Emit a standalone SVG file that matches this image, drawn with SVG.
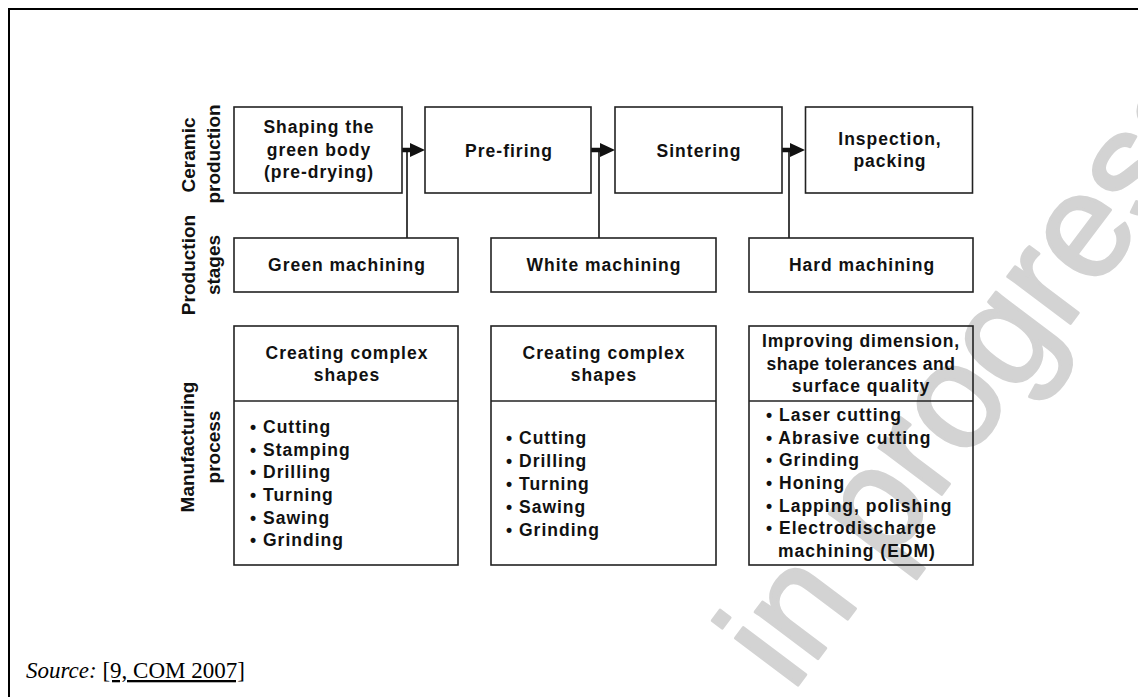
<svg xmlns="http://www.w3.org/2000/svg" width="1138" height="697" viewBox="0 0 1138 697">
<style>
.box{fill:none;stroke:#222;stroke-width:1.6}
.t{font-family:"Liberation Sans",Arial,sans-serif;font-weight:bold;font-size:17.5px;letter-spacing:1px;fill:#111}
.c{text-anchor:middle}
.lab{font-family:"Liberation Sans",Arial,sans-serif;font-weight:bold;font-size:19px;fill:#111;text-anchor:middle}
.conn{stroke:#111;stroke-width:1.6;fill:none}
.thick{stroke:#111;stroke-width:4.5;fill:none}
.head{fill:#111}
.wm{font-family:"Liberation Sans",Arial,sans-serif;font-size:148px;fill:#d3d3d3;stroke:#d3d3d3;stroke-width:3;stroke-linejoin:round}
.src{font-family:"Liberation Serif","Times New Roman",serif;font-size:23px;fill:#000}
</style>
<rect x="0" y="0" width="1138" height="697" fill="#fff"/>
<g id="watermark">
<text class="wm" transform="translate(792,693) rotate(-53)">in progress</text>
</g>
<rect x="9" y="9" width="1150" height="700" fill="none" stroke="#000" stroke-width="2"/>
<g id="row-labels">
<text class="lab" transform="translate(195,155) rotate(-90)">Ceramic</text>
<text class="lab" transform="translate(220,154) rotate(-90)">production</text>
<text class="lab" transform="translate(195,265) rotate(-90)">Production</text>
<text class="lab" transform="translate(220,265) rotate(-90)">stages</text>
<text class="lab" transform="translate(194,447) rotate(-90)">Manufacturing</text>
<text class="lab" transform="translate(220,447) rotate(-90)">process</text>
</g>
<g id="connectors">
<line class="thick" x1="402" y1="150" x2="413" y2="150"/>
<polygon class="head" points="410,143 425,150 410,157"/>
<line class="conn" x1="407" y1="238" x2="407" y2="150"/>
<line class="thick" x1="591" y1="150" x2="602" y2="150"/>
<polygon class="head" points="600,143 615,150 600,157"/>
<line class="conn" x1="599" y1="238" x2="599" y2="150"/>
<line class="thick" x1="782" y1="150" x2="792" y2="150"/>
<polygon class="head" points="790,143 805,150 790,157"/>
<line class="conn" x1="789" y1="238" x2="789" y2="150"/>
</g>
<g id="shaping">
<rect class="box" x="234" y="107" width="168" height="86"/>
<text class="t c" x="319" y="133">Shaping the</text>
<text class="t c" x="319" y="156">green body</text>
<text class="t c" x="319" y="178">(pre-drying)</text>
</g>
<g id="prefiring">
<rect class="box" x="425" y="107" width="166" height="86"/>
<text class="t c" x="509" y="157">Pre-firing</text>
</g>
<g id="sintering">
<rect class="box" x="615" y="107" width="167" height="86"/>
<text class="t c" x="699" y="157">Sintering</text>
</g>
<g id="inspection">
<rect class="box" x="805.5" y="107" width="167" height="86"/>
<text class="t c" x="890" y="145">Inspection,</text>
<text class="t c" x="890" y="167">packing</text>
</g>
<g id="green">
<rect class="box" x="234" y="238" width="224" height="54"/>
<text class="t c" x="347" y="271">Green machining</text>
</g>
<g id="white">
<rect class="box" x="491" y="238" width="225" height="54"/>
<text class="t c" x="604" y="271">White machining</text>
</g>
<g id="hard">
<rect class="box" x="749" y="238" width="224" height="54"/>
<text class="t c" x="862" y="271">Hard machining</text>
</g>
<g id="process1">
<rect class="box" x="234" y="326" width="224" height="239"/>
<line class="box" x1="234" y1="401" x2="458" y2="401"/>
<text class="t c" x="347" y="359">Creating complex</text>
<text class="t c" x="347" y="381">shapes</text>
<text class="t" x="250" y="433">• Cutting</text>
<text class="t" x="250" y="455.5">• Stamping</text>
<text class="t" x="250" y="478">• Drilling</text>
<text class="t" x="250" y="501">• Turning</text>
<text class="t" x="250" y="523.5">• Sawing</text>
<text class="t" x="250" y="546">• Grinding</text>
</g>
<g id="process2">
<rect class="box" x="491" y="326" width="225" height="239"/>
<line class="box" x1="491" y1="401" x2="716" y2="401"/>
<text class="t c" x="604" y="359">Creating complex</text>
<text class="t c" x="604" y="381">shapes</text>
<text class="t" x="506" y="444">• Cutting</text>
<text class="t" x="506" y="467">• Drilling</text>
<text class="t" x="506" y="490">• Turning</text>
<text class="t" x="506" y="513">• Sawing</text>
<text class="t" x="506" y="536">• Grinding</text>
</g>
<g id="process3">
<rect class="box" x="749" y="326" width="224" height="239"/>
<line class="box" x1="749" y1="401" x2="973" y2="401"/>
<text class="t c" x="861" y="347" style="letter-spacing:0.8px">Improving dimension,</text>
<text class="t c" x="861" y="370" style="letter-spacing:0.5px">shape tolerances and</text>
<text class="t c" x="861" y="392">surface quality</text>
<text class="t" x="766" y="421">• Laser cutting</text>
<text class="t" x="766" y="443.5">• Abrasive cutting</text>
<text class="t" x="766" y="466">• Grinding</text>
<text class="t" x="766" y="488.5">• Honing</text>
<text class="t" x="766" y="512">• Lapping, polishing</text>
<text class="t" x="766" y="534">• Electrodischarge</text>
<text class="t" x="778" y="557">machining (EDM)</text>
</g>
<g id="source">
<text class="src" x="26" y="678"><tspan font-style="italic">Source:</tspan> <tspan text-decoration="underline">[9, COM 2007]</tspan></text>
</g>
</svg>
